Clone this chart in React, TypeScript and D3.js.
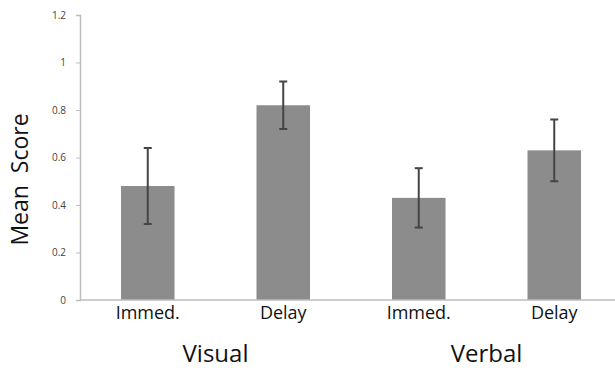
import { useEffect, useRef } from 'react';
import * as d3 from 'd3';

const conditions = ['Immed.', 'Delay', 'Immed.', 'Delay'];
const groups = ['Visual', 'Verbal'];
const means = [0.48, 0.82, 0.43, 0.63];
const errors = [0.16, 0.1, 0.125, 0.13];
const yTicks = [0, 0.2, 0.4, 0.6, 0.8, 1, 1.2];

const App = () => {
	const ref = useRef<SVGSVGElement>(null);

	useEffect(() => {
		const width = 615,
			height = 368;
		const margin = { top: 15, left: 80, bottom: 68 };
		const svg = d3.select(ref.current).attr('width', width).attr('height', height);
		svg.selectAll('*').remove();

		const idx = conditions.map((d, i) => i);
		const x = d3
			.scaleBand<number>()
			.domain(idx)
			.range([margin.left, margin.left + 4 * 135.5])
			.paddingInner(0.605)
			.paddingOuter(0.3025);
		const y = d3
			.scaleLinear()
			.domain([0, 1.2])
			.range([height - margin.bottom, margin.top]);

		const font = "'Open Sans', sans-serif";

		// y axis
		const yAxis = svg
			.append('g')
			.attr('transform', `translate(${margin.left},0)`)
			.call(
				d3
					.axisLeft(y)
					.tickValues(yTicks)
					.tickSize(4)
					.tickPadding(10)
					.tickFormat((d) => d3.format('')(+d))
			);
		yAxis.select('.domain').attr('stroke', '#bdbdbd').attr('stroke-width', 1.5);
		yAxis.selectAll('.tick line').attr('stroke', '#bdbdbd');
		yAxis
			.selectAll('.tick text')
			.attr('fill', '#444')
			.style('font-family', font)
			.style('font-size', '10px');

		// bars
		svg
			.append('g')
			.selectAll('rect')
			.data(means)
			.join('rect')
			.attr('x', (d, i) => x(i)!)
			.attr('width', x.bandwidth())
			.attr('y', (d) => y(d))
			.attr('height', (d) => y(0) - y(d))
			.attr('fill', '#8c8c8c');

		// x axis line
		svg
			.append('line')
			.attr('x1', margin.left)
			.attr('x2', width)
			.attr('y1', y(0))
			.attr('y2', y(0))
			.attr('stroke', '#bdbdbd')
			.attr('stroke-width', 1.5);

		// error bars
		const eb = svg.append('g').attr('stroke', '#444').attr('stroke-width', 2);
		means.forEach((m, i) => {
			const cx = x(i)! + x.bandwidth() / 2;
			eb.append('line')
				.attr('x1', cx)
				.attr('x2', cx)
				.attr('y1', y(m + errors[i]))
				.attr('y2', y(m - errors[i]));
			[m + errors[i], m - errors[i]].forEach((v) => {
				eb.append('line')
					.attr('x1', cx - 4)
					.attr('x2', cx + 4)
					.attr('y1', y(v))
					.attr('y2', y(v));
			});
		});

		// condition labels
		svg
			.append('g')
			.selectAll('text')
			.data(conditions)
			.join('text')
			.attr('x', (d, i) => x(i)! + x.bandwidth() / 2)
			.attr('y', y(0) + 19)
			.attr('text-anchor', 'middle')
			.attr('fill', '#111')
			.style('font-family', font)
			.style('font-size', '18px')
			.text((d) => d);

		// group labels
		svg
			.append('g')
			.selectAll('text')
			.data(groups)
			.join('text')
			.attr('x', (d, i) => (x(i * 2)! + x(i * 2 + 1)! + x.bandwidth()) / 2)
			.attr('y', y(0) + 62)
			.attr('text-anchor', 'middle')
			.attr('fill', '#111')
			.style('font-family', font)
			.style('font-size', '24px')
			.text((d) => d);

		// y label
		svg
			.append('text')
			.attr('transform', `translate(28,${(y(0) + y(1.2)) / 2 + 22}) rotate(-90)`)
			.attr('text-anchor', 'middle')
			.attr('fill', '#111')
			.style('font-family', font)
			.style('font-size', '23px')
			.style('white-space', 'pre')
			.text('Mean  Score');
	}, []);

	return (
		<svg
			ref={ref}
			style={{ position: 'absolute', left: 0, top: 0, background: '#fff' }}
		/>
	);
};

export default App;
